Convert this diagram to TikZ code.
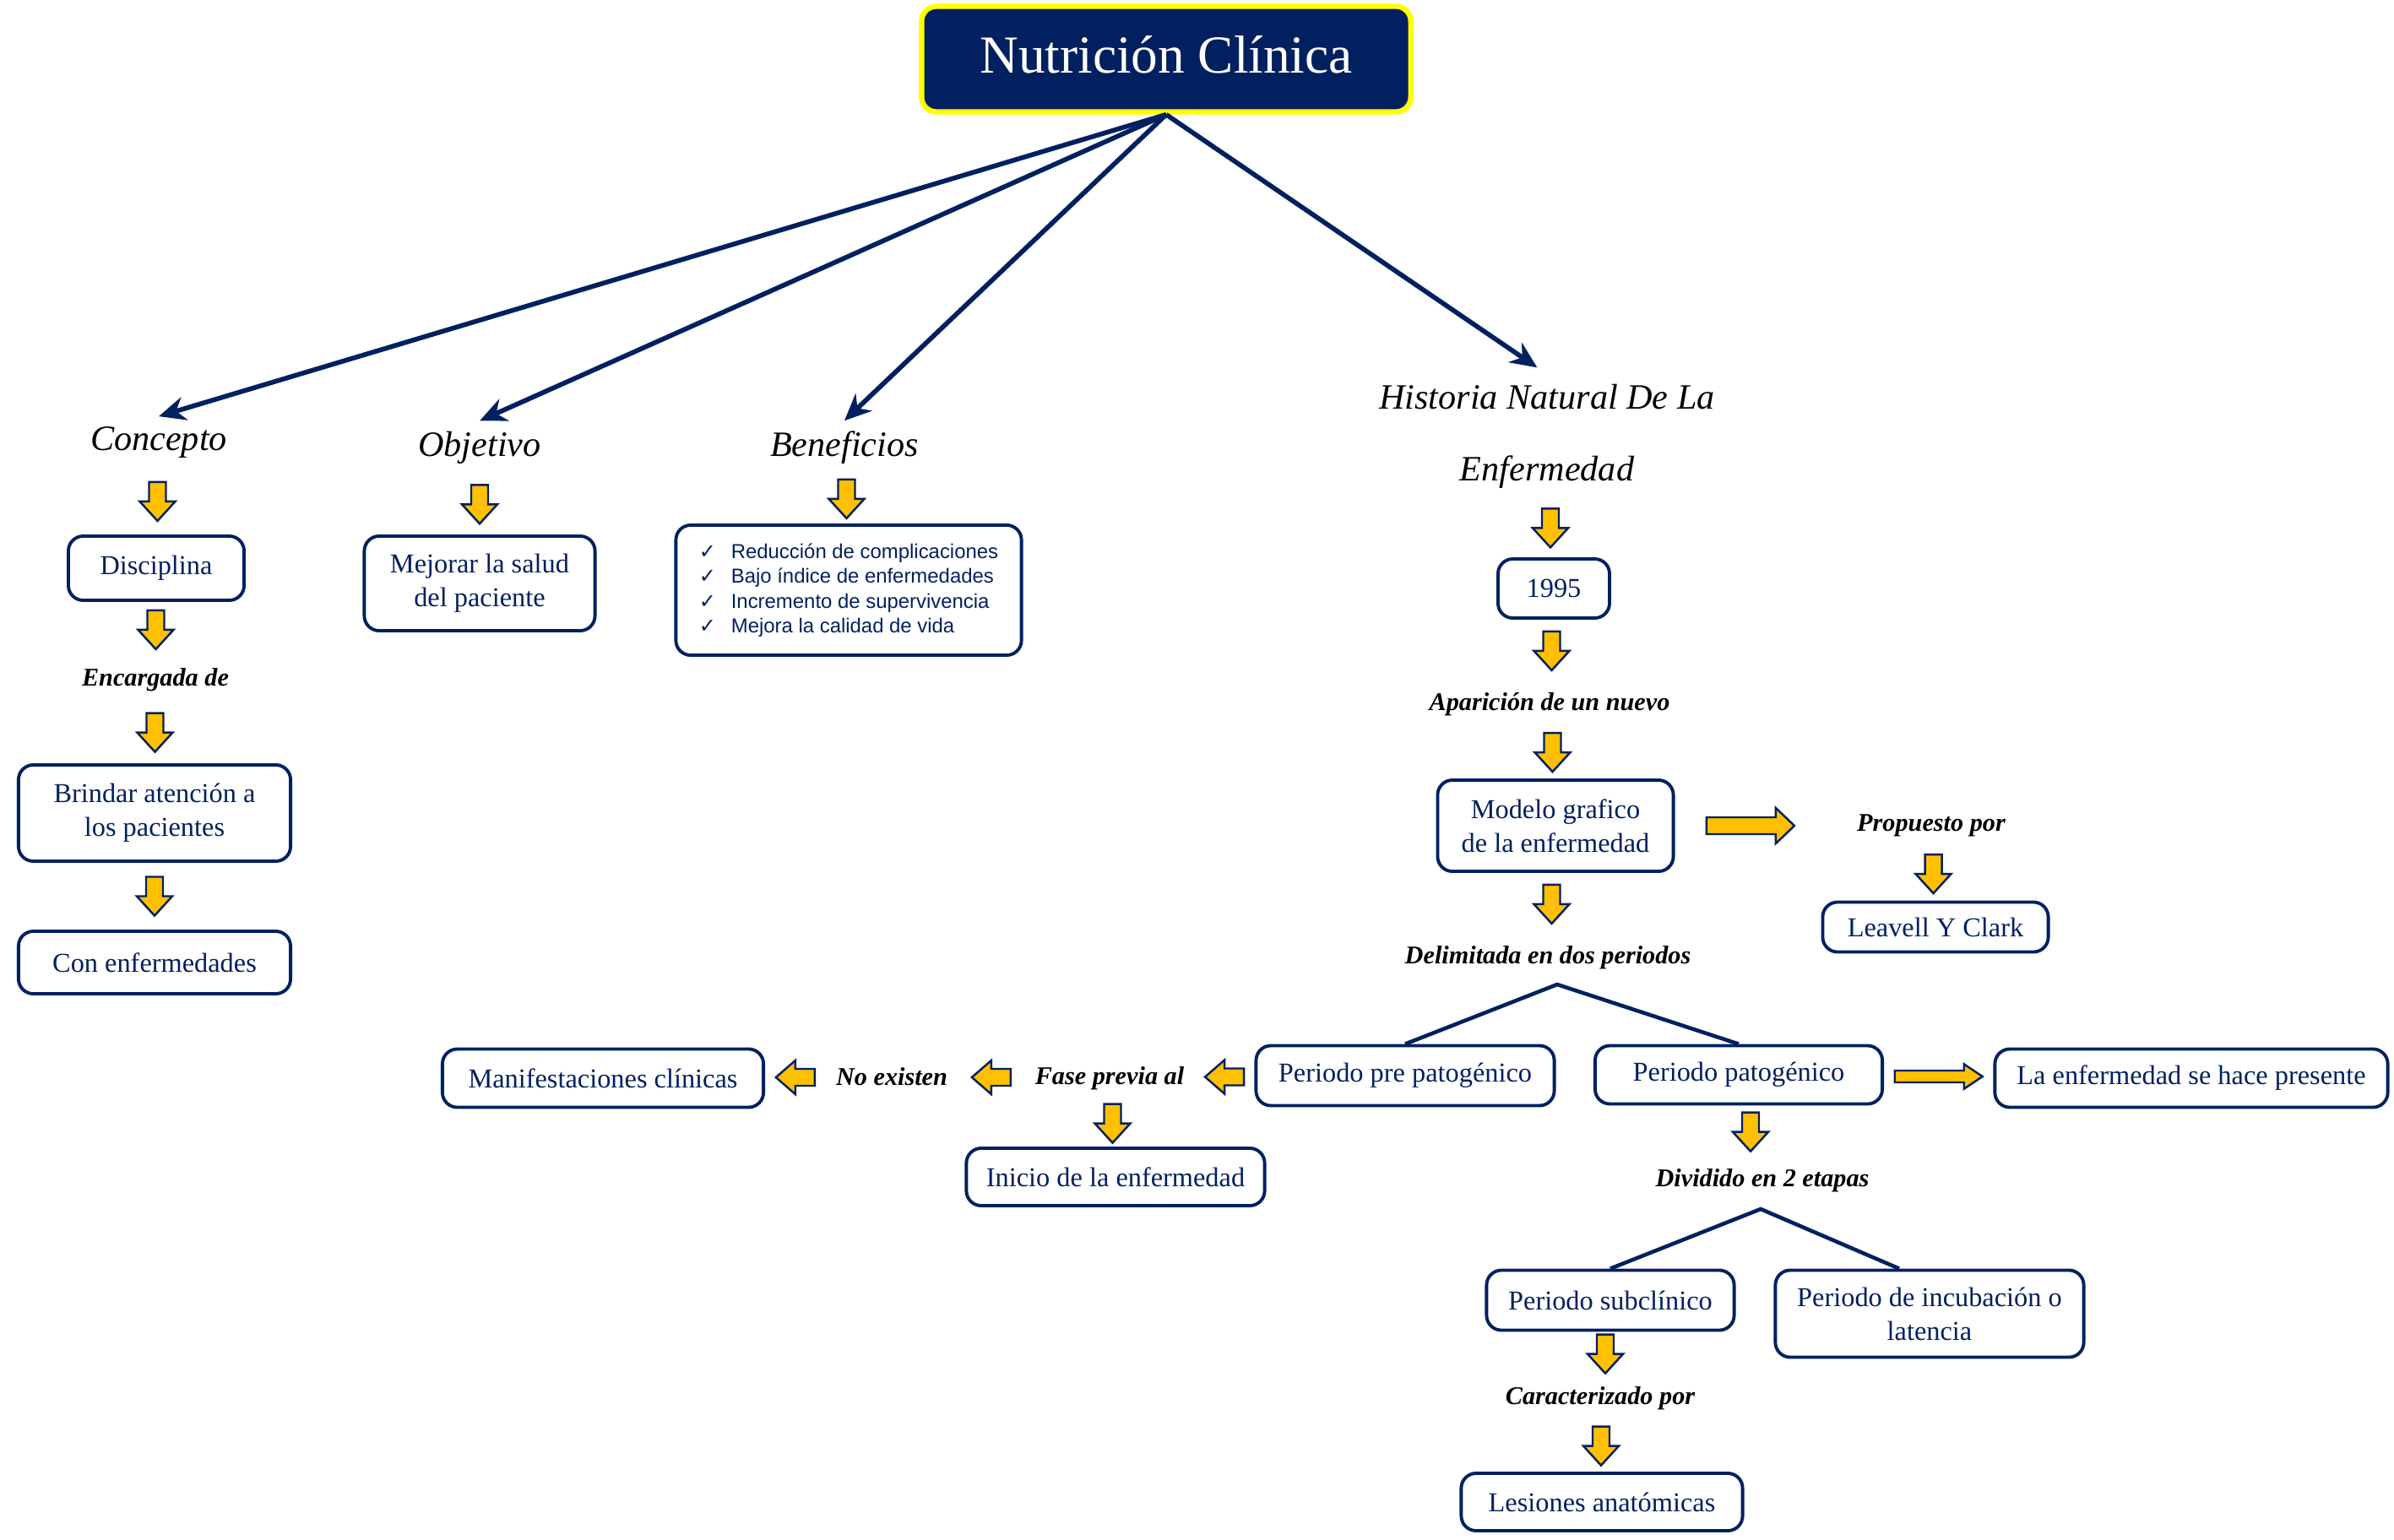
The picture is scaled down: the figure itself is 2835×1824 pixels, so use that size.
\documentclass[tikz,border=0pt]{standalone}
\usepackage{fontspec}
\setmainfont{Liberation Serif}
\newfontfamily\listfont{Liberation Sans}
\newfontfamily\symfont{DejaVu Sans}
\usetikzlibrary{arrows.meta,calc,positioning}

\definecolor{navy}{RGB}{0,32,96}
\definecolor{gold}{RGB}{255,192,0}
\definecolor{titleyellow}{RGB}{255,255,0}

\newcommand{\chk}{\makebox[0.38cm][l]{\symfont ✓}}

\tikzset{
  box/.style={draw=navy, line width=1.1pt, rounded corners=5pt, fill=white, text=navy,
    align=center, font=\fontsize{9.2}{11.4}\selectfont, inner sep=2pt},
  header/.style={font=\fontsize{12}{24}\selectfont\itshape, align=center},
  lbl/.style={font=\fontsize{8.6}{10}\selectfont\bfseries\itshape},
  mainarr/.style={draw=navy, line width=1.6pt, -{Stealth[length=9pt,width=8pt]}},
  branch/.style={draw=navy, line width=1.3pt},
  blockarr/.style={draw=navy, line width=0.7pt, fill=gold, line join=miter},
  dnarr/.pic={\path[blockarr] (-10,-23) -- (10,-23) -- (10,0) -- (21,0) -- (0,23) -- (-21,0) -- (-10,0) -- cycle;},
  lfarr/.pic={\path[blockarr] (23,-10) -- (0,-10) -- (0,-20) -- (-23,0) -- (0,20) -- (0,10) -- (23,10) -- cycle;},
  rtarr/.pic={\path[blockarr] (-52,-10) -- (30,-10) -- (30,-21) -- (52,0) -- (30,21) -- (30,10) -- (-52,10) -- cycle;}
}

\begin{document}
\begin{tikzpicture}[x=0.01cm,y=-0.01cm]
  \useasboundingbox (0,0) rectangle (2835,1824);

  % titulo
  \node[box, minimum width=5.79cm, minimum height=1.25cm, fill=navy, draw=titleyellow,
    line width=1.8pt, text=white, font=\fontsize{18}{20}\selectfont] (title) at (1381,70) {\raisebox{3pt}{Nutrición Clínica}};

  % ramas principales
  \node[header] (concepto) at (188,524) {Concepto};
  \node[header] (objetivo) at (568,530) {Objetivo};
  \node[header] (beneficios) at (1000,530) {Beneficios};
  \node[header] (historia) at (1832,517) {Historia Natural De La\\Enfermedad};
  \foreach \dest in {concepto,objetivo,beneficios}
    \draw[mainarr] (title.south) -- (\dest.north);
  \draw[mainarr, shorten >=4pt] (title.south) -- (historia.north);

  % concepto
  \node[box, minimum width=2.08cm, minimum height=0.76cm] (disciplina) at (185,673) {Disciplina};
  \node[lbl] (encargada) at (184,805) {Encargada de};
  \node[box, minimum width=3.22cm, minimum height=1.14cm] (brindar) at (183,963) {Brindar atención a\\los pacientes};
  \node[box, minimum width=3.22cm, minimum height=0.74cm] (conenf) at (183,1140) {Con enfermedades};

  % objetivo y beneficios
  \node[box, minimum width=2.73cm, minimum height=1.12cm] (mejorar) at (568,691) {Mejorar la salud\\del paciente};
  \node[box, minimum width=4.09cm, minimum height=1.54cm, align=left,
    font={\listfont\fontsize{6.8}{8.4}\selectfont}] (lista) at (1005,699)
    {\chk Reducción de complicaciones\\
     \chk Bajo índice de enfermedades\\
     \chk Incremento de supervivencia\\
     \chk Mejora la calidad de vida};

  % historia natural
  \node[box, minimum width=1.32cm, minimum height=0.70cm] (anio) at (1840,697) {1995};
  \node[lbl] (aparicion) at (1835,834) {Aparición de un nuevo};
  \node[box, minimum width=2.79cm, minimum height=1.08cm] (modelo) at (1842,978) {Modelo grafico\\de la enfermedad};
  \node[lbl] (propuesto) at (2287,978) {Propuesto por};
  \node[box, minimum width=2.67cm, minimum height=0.59cm] (leavell) at (2292,1098) {Leavell Y Clark};
  \node[lbl] (delimitada) at (1833,1134) {Delimitada en dos periodos};
  \coordinate (split1) at (1844,1166);
  \node[box, minimum width=3.53cm, minimum height=0.71cm] (prepat) at (1664,1274) {Periodo pre patogénico};
  \node[box, minimum width=3.40cm, minimum height=0.69cm] (patog) at (2059,1273) {Periodo patogénico};
  \node[box, minimum width=4.65cm, minimum height=0.69cm] (presente) at (2595,1277) {La enfermedad se hace presente};
  \node[lbl] (fase) at (1314,1277) {Fase previa al};
  \node[lbl] (noexisten) at (1056,1275) {No existen};
  \node[box, minimum width=3.80cm, minimum height=0.69cm] (manif) at (714,1277) {Manifestaciones clínicas};
  \node[box, minimum width=3.53cm, minimum height=0.68cm] (inicio) at (1321,1394) {Inicio de la enfermedad};
  \node[lbl] (dividido) at (2087,1398) {Dividido en 2 etapas};
  \coordinate (split2) at (2085,1432);
  \node[box, minimum width=2.93cm, minimum height=0.71cm] (subclin) at (1907,1540) {Periodo subclínico};
  \node[box, minimum width=3.65cm, minimum height=1.03cm] (incub) at (2285,1556) {Periodo de incubación o\\latencia};
  \node[lbl] (caract) at (1895,1656) {Caracterizado por};
  \node[box, minimum width=3.33cm, minimum height=0.68cm] (lesiones) at (1897,1779) {Lesiones anatómicas};

  \draw[branch] (prepat.north) -- (split1) -- (patog.north);
  \draw[branch] (subclin.north) -- (split2) -- ([xshift=-0.36cm]incub.north);

  % flechas amarillas
  \pic at ($(concepto.south)!0.5!(disciplina.north)$) {dnarr};
  \pic at ($(disciplina.south)!0.5!(encargada.north)$) {dnarr};
  \pic at ($(encargada.south)!0.5!(brindar.north)$) {dnarr};
  \pic at ($(brindar.south)!0.5!(conenf.north)$) {dnarr};
  \pic at ($(objetivo.south)!0.5!(mejorar.north)$) {dnarr};
  \pic at ($(beneficios.south)!0.5!(lista.north)$) {dnarr};
  \pic at ($(historia.south)!0.5!(anio.north)$) {dnarr};
  \pic at ($(anio.south)!0.5!(aparicion.north)$) {dnarr};
  \pic at ($(aparicion.south)!0.5!(modelo.north)$) {dnarr};
  \pic at ($(modelo.south)!0.5!(delimitada.north)$) {dnarr};
  \pic at ($(propuesto.south)!0.5!(leavell.north)$) {dnarr};
  \pic at ($(fase.south)!0.5!(inicio.north)$) {dnarr};
  \pic at ($(patog.south)!0.5!(dividido.north)$) {dnarr};
  \pic at ($(subclin.south)!0.5!(caract.north)$) {dnarr};
  \pic at ($(caract.south)!0.5!(lesiones.north)$) {dnarr};
  \pic at ($(modelo.east)!0.44!(propuesto.west)$) {rtarr};
  \pic[yscale=0.7] at ($(patog.east)!0.5!(presente.west)$) {rtarr};
  \pic at ($(prepat.west)!0.5!(fase.east)$) {lfarr};
  \pic at ($(fase.west)!0.5!(noexisten.east)$) {lfarr};
  \pic at ($(noexisten.west)!0.5!(manif.east)$) {lfarr};
\end{tikzpicture}
\end{document}
